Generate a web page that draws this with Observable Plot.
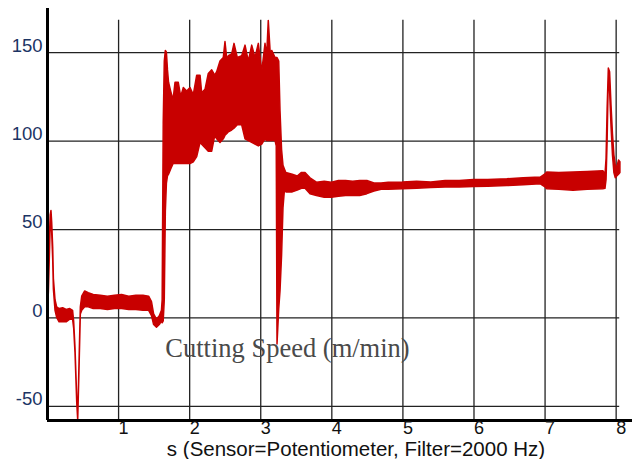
<!DOCTYPE html>
<html>
<head>
<meta charset="utf-8">
<script src="https://cdn.jsdelivr.net/npm/d3@7"></script>
<script src="https://cdn.jsdelivr.net/npm/@observablehq/plot@0.6"></script>
<style>
  html, body { margin: 0; padding: 0; background: #fff; }
  #chart { width: 638px; height: 459px; }
</style>
</head>
<body>
<div id="chart"></div>
<script>
// time (s)
const t = [
  0.000, 0.020, 0.045, 0.056, 0.066, 0.080, 0.090, 0.113, 0.136, 0.170,
  0.220, 0.270, 0.320, 0.360, 0.375, 0.394, 0.418, 0.432, 0.450, 0.469,
  0.488, 0.530, 0.580, 0.650, 0.750, 0.850, 0.950, 1.050, 1.150, 1.250,
  1.350, 1.430, 1.470, 1.500, 1.540, 1.580, 1.610, 1.620, 1.635, 1.650,
  1.665, 1.680, 1.695, 1.710, 1.740, 1.773, 1.801, 1.847, 1.881, 1.918,
  1.965, 2.012, 2.058, 2.106, 2.153, 2.176, 2.223, 2.269, 2.317, 2.360,
  2.387, 2.434, 2.480, 2.504, 2.530, 2.551, 2.598, 2.631, 2.677, 2.739,
  2.786, 2.832, 2.880, 2.926, 2.973, 3.021, 3.067, 3.090, 3.113, 3.140,
  3.161, 3.208, 3.225, 3.236, 3.260, 3.278, 3.300, 3.320, 3.340, 3.360,
  3.450, 3.520, 3.580, 3.630, 3.700, 3.790, 3.900, 4.000, 4.100, 4.200,
  4.300, 4.400, 4.500, 4.600, 4.700, 4.800, 5.000, 5.200, 5.400, 5.600,
  5.800, 6.000, 6.200, 6.470, 6.700, 6.940, 7.000, 7.030, 7.200, 7.400,
  7.600, 7.820, 7.850, 7.865, 7.880, 7.897, 7.915, 7.935, 7.955, 7.975,
  7.995, 8.015, 8.040, 8.060
];
// lower edge of the noisy cutting-speed trace (m/min)
const lo = [
  -3, 15, 52, 57, 48, 33, 16, 4, 0, -2.5,
  -2.5, -2.5, -1, -1, -6, -20, -48, -58, -30, 2,
  4, 6, 6, 5, 5, 4.5, 5, 5, 4.5, 4.5,
  4, 4, 1, -4, -5.5, -4, -2, -3, -2, 10,
  60, 76, 80, 81, 84, 87, 87, 87, 87, 87,
  87, 87, 88, 91, 99, 98, 96, 94, 94, 103,
  101, 99, 101, 103, 104, 105, 106, 107, 109, 109,
  101, 100, 99, 98, 97, 98, 101, 100, 100, 100,
  100, 100, 97, -15, 5, 15, 35, 62, 72, 71,
  71, 72, 73, 73, 70, 69, 68, 68, 68.5, 69,
  69, 69, 70, 71.5, 72.5, 72.5, 72.8, 73, 73.5, 73.7,
  73.7, 74, 74.2, 74.6, 75, 75.6, 74, 72.8, 72.5, 72,
  72.5, 72.8, 73, 78, 100, 136, 128, 108, 92, 82,
  79, 80, 81, 82
];
// upper edge of the noisy cutting-speed trace (m/min)
const hi = [
  0, 30, 58, 60.5, 54, 40, 22, 10, 6, 5,
  5.5, 4.5, 5, 4, -2, -17, -45, -57, -26, 6,
  12, 15, 14, 13, 12.5, 12, 12.5, 13, 12, 12.5,
  12.5, 12, 9, 2, -1, 1, 4, 10, 110, 145,
  151, 150, 140, 133, 128, 123, 133, 133, 125, 130,
  128, 130, 126, 137, 137, 127, 129, 138, 140, 137,
  139, 145, 147, 156, 146, 148, 149, 155, 147, 148,
  154, 145, 154, 147, 155, 139, 155, 148, 168, 150,
  151, 147, 147, 147, 145, 117, 95, 86, 84, 82,
  81, 80, 82, 82, 79, 76.5, 77, 76.5, 77.5, 77.5,
  77, 77.5, 77.5, 76, 76, 76.5, 76.6, 77, 76.6, 77.5,
  77.5, 78, 78, 78.4, 79, 79.4, 81, 82.2, 82, 82.2,
  82.5, 83, 81, 90, 118, 141, 139, 120, 104, 92,
  86, 85, 89, 88
];

const yTicks = [-50, 0, 50, 100, 150];
const xTicks = [1, 2, 3, 4, 5, 6, 7, 8];
const xDomain = [0, 8.23];
const yDomain = [-58, 175];
const gridRight = 8.05;
const gridTop = 168.4;
const seriesLabel = "Cutting Speed (m/min)";
const xTitle = "s (Sensor=Potentiometer, Filter=2000 Hz)";

const signal = t.map((d, i) => ({t: d, lo: lo[i], hi: hi[i]}));
const red = "#c80000";

const chart = Plot.plot({
  width: 638,
  height: 459,
  marginLeft: 47,
  marginRight: 6,
  marginTop: 8,
  marginBottom: 39,
  x: {domain: xDomain},
  y: {domain: yDomain},
  style: {background: "#fff", fontFamily: "'Liberation Sans', Arial, sans-serif"},
  marks: [
    Plot.ruleY(yTicks, {x1: 0, x2: gridRight, stroke: "#222", strokeWidth: 1.3}),
    Plot.ruleX(xTicks, {y1: yDomain[0], y2: gridTop, stroke: "#222", strokeWidth: 1.3}),
    Plot.areaY(signal, {x: "t", y1: "lo", y2: "hi", fill: red, stroke: red, strokeWidth: 1.5, strokeLinejoin: "round", clip: true}),
    Plot.text([seriesLabel], {x: 3.376, y: -17.5, text: d => d, fontFamily: "'Liberation Serif', 'Times New Roman', serif", fontSize: 26.5, fill: "#4a4a4a"}),
    Plot.ruleX([0], {y1: yDomain[0], y2: yDomain[1], stroke: "#000", strokeWidth: 3}),
    Plot.ruleY([yDomain[0]], {x1: 0, x2: xDomain[1], stroke: "#000", strokeWidth: 3}),
    Plot.axisY(yTicks, {anchor: "left", tickSize: 0, tickPadding: 5, dy: -7, fontSize: 18.5, color: "#1c3464", label: null, tickFormat: d => String(d)}),
    Plot.axisX(xTicks, {anchor: "bottom", tickSize: 0, tickPadding: 1, dx: 5, fontSize: 18, color: "#111", label: null, tickFormat: d => String(d)}),
    Plot.text([xTitle], {frameAnchor: "bottom", lineAnchor: "middle", text: d => d, dx: 16, dy: 29, fontSize: 20.5, fill: "#111"})
  ]
});
document.getElementById("chart").appendChild(chart);
</script>
</body>
</html>
